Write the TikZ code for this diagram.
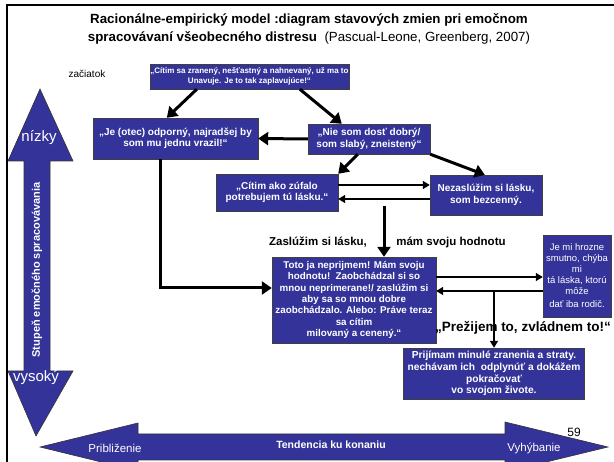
\documentclass[tikz,border=0pt]{standalone}
\usepackage{fontspec}
\setmainfont{Liberation Sans}
\usetikzlibrary{arrows.meta}

\definecolor{slideblue}{RGB}{51,51,153}

\tikzset{
  state/.style={draw=black!75, fill=slideblue, text=white, align=center,
    inner sep=0pt, font=\bfseries\fontsize{10}{11.5}\selectfont},
  thickarr/.style={line width=3pt, -{Triangle[length=10pt,width=13pt]}},
  thinarr/.style={line width=1.4pt, -{Triangle[length=7pt,width=8pt]}},
  bigarrow/.style={draw=black!80, fill=slideblue, line width=0.6pt},
}

\begin{document}
\begin{tikzpicture}[x=1pt,y=-1pt]
  \useasboundingbox (0,0) rectangle (614,462);
  \clip (0,0) rectangle (614,462);

  % frame of the slide
  \draw[line width=2pt] (7,462) -- (7,5) -- (616,5);

  % title
  \node (title1) at (309,20) {\bfseries\fontsize{13.3}{15}\selectfont Racionálne-empirický model :diagram stavových zmien pri emočnom};
  \node (title2) at (309,38) {\fontsize{13.3}{15}\selectfont\textbf{spracovávaní všeobecného distresu}\ \ (Pascual-Leone, Greenberg, 2007)};
  \node (start) at (87,74) {\fontsize{10}{12}\selectfont začiatok};

  % states
  \node (feel) at (249.5,76.5) [state, minimum width=199pt, minimum height=25pt, font=\bfseries\fontsize{8}{9.6}\selectfont]
    {„Cítim sa zranený, nešťastný a nahnevaný, už ma to\\Unavuje. Je to tak zaplavujúce!“};
  \node (angry) at (175.5,138.5) [state, minimum width=165pt, minimum height=41pt]
    {„Je (otec) odporný, najradšej by\\som mu jednu vrazil!“};
  \node (weak) at (369,139) [state, minimum width=122pt, minimum height=30pt]
    {„Nie som dosť dobrý/\\som slabý, zneistený“};
  \node (desp) at (277,192.5) [state, minimum width=122pt, minimum height=37pt]
    {„Cítim ako zúfalo\\potrebujem tú lásku.“};
  \node (worth) at (486,195) [state, minimum width=112pt, minimum height=40pt]
    {Nezaslúžim si lásku,\\som bezcenný.};
  \node (accept) at (354,300) [state, minimum width=164pt, minimum height=86pt, font=\bfseries\fontsize{9.8}{11.4}\selectfont]
    {Toto ja neprijmem! Mám svoju\\hodnotu!\ \ Zaobchádzal si so\\mnou neprimerane!/ zaslúžim si\\aby sa so mnou dobre\\zaobchádzalo. Alebo: Práve teraz\\sa cítim\\milovaný a cenený.“};
  \node (sad) at (577,276) [state, minimum width=68pt, minimum height=82pt, font=\fontsize{9.5}{11}\selectfont]
    {Je mi hrozne\\smutno, chýba\\mi\\tá láska, ktorú\\môže\\[2pt]dať iba rodič.};
  \node (letgo) at (494,373.5) [state, minimum width=181pt, minimum height=51pt, font=\bfseries\fontsize{10.2}{11.8}\selectfont]
    {Prijímam minulé zranenia a straty.\\nechávam ich\ \ odplynúť a dokážem\\pokračovať\\vo svojom živote.};

  % labels
  \node (deserve) at (318,242) {\bfseries\fontsize{11.5}{13}\selectfont Zaslúžim si lásku,};
  \node (value) at (451,242) {\bfseries\fontsize{11.5}{13}\selectfont mám svoju hodnotu};
  \node (survive) at (523,328) {\bfseries\fontsize{13.5}{15}\selectfont „Prežijem to, zvládnem to!“};

  % connectors
  \draw[thickarr] ([xshift=47pt]feel.south west) -- ([xshift=74pt]angry.north west);
  \draw[thickarr] ([xshift=150pt]feel.south west) -- ([xshift=34pt]weak.north west);
  \draw[thickarr] (weak.west) -- (angry.east);
  \draw[thickarr] ([xshift=50pt]weak.south west) -- (desp.north east);
  \draw[thickarr] (weak.south east) -- ([xshift=55pt]worth.north west);
  \draw[thinarr] ([yshift=7.5pt]desp.east) -- ([yshift=7.5pt]desp.east -| worth.west);
  \draw[thinarr] ([yshift=-6.5pt]desp.east -| worth.west) -- ([yshift=-6.5pt]desp.east);
  \coordinate (turn) at (384,206);
  \draw[thickarr] (turn) -- (turn |- accept.north);
  \draw[thickarr] ([xshift=-15.5pt]angry.south) |- ([yshift=12pt]accept.west);
  \draw[thinarr] ([yshift=23pt]accept.east) -- ([yshift=23pt]accept.east -| sad.west);
  \draw[thinarr] ([yshift=9pt]accept.east -| sad.west) -- ([yshift=9pt]accept.east);
  \draw[thinarr] ([yshift=9pt]accept.east -| letgo.north) -- (letgo.north);

  % vertical axis arrow
  \draw[bigarrow] (40,89) -- (73,161) -- (50,161) -- (50,371) -- (73,371) -- (36,436)
    -- (8,371) -- (24,371) -- (24,161) -- (8,161) -- cycle;
  \node (low) at (39,138) [text=white] {\fontsize{15}{17}\selectfont nízky};
  \node (high) at (36,378) [text=white] {\fontsize{15}{17}\selectfont vysoký};
  \node (level) at (37,270) [text=white, rotate=90] {\bfseries\fontsize{11}{13}\selectfont Stupeň emočného spracovávania};

  % horizontal axis arrow
  \draw[bigarrow] (40,447) -- (138,423) -- (138,434) -- (505,434) -- (505,422) -- (608,447)
    -- (505,472) -- (505,460) -- (138,460) -- (138,471) -- cycle;
  \node (near) at (115,448) [text=white] {\fontsize{11.5}{13}\selectfont Približenie};
  \node (act) at (331,445) [text=white] {\bfseries\fontsize{10.5}{12}\selectfont Tendencia ku konaniu};
  \node (avoid) at (534,448) [text=white] {\fontsize{11.5}{13}\selectfont Vyhýbanie};
  \node (page) at (574,432) {\fontsize{12}{13}\selectfont 59};
\end{tikzpicture}
\end{document}
